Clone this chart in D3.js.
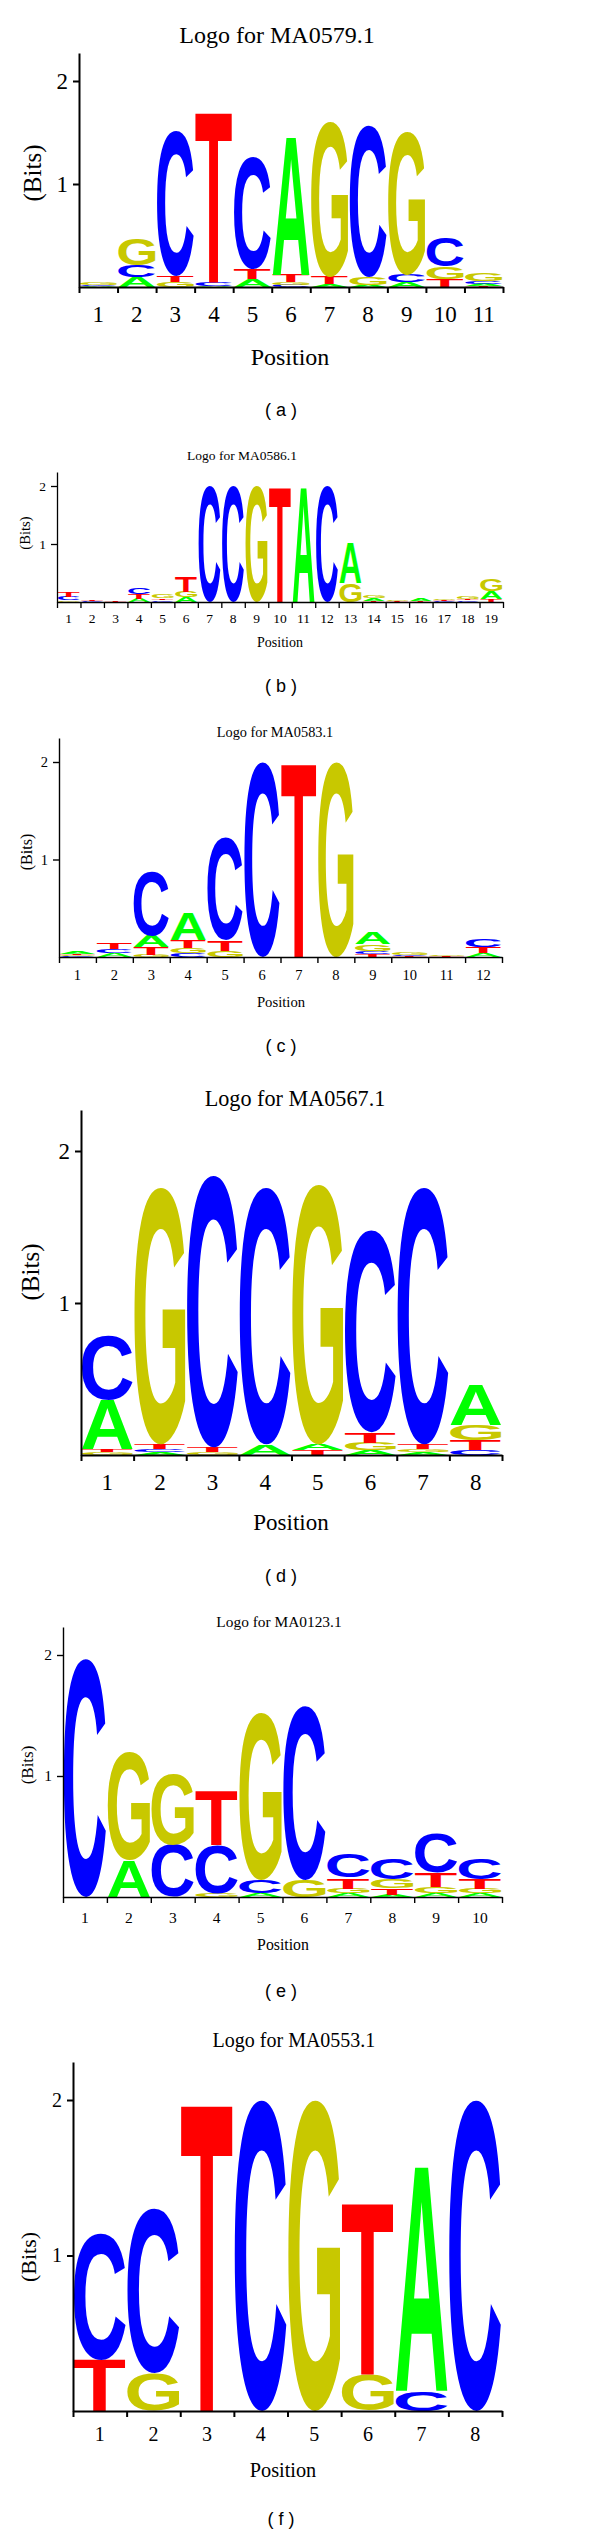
<!DOCTYPE html>
<html><head><meta charset="utf-8">
<script src="https://cdn.jsdelivr.net/npm/d3@7"></script>
<style>body{margin:0;background:#fff} svg{display:block}</style>
</head><body>
<svg id="chart" width="600" height="2536"></svg>
<script>
// ---------------- DATA ----------------
const titles = ["Logo for MA0579.1","Logo for MA0586.1","Logo for MA0583.1","Logo for MA0567.1","Logo for MA0123.1","Logo for MA0553.1"];
const panelLabels = ["( a )","( b )","( c )","( d )","( e )","( f )"];
const yTickValues = [1, 2];
const yAxisLabel = "(Bits)";
const xAxisLabel = "Position";
const letterColors = {A:"#00ff00", C:"#0000ff", G:"#c8c800", T:"#ff0000"};

// each position: stack of [letter, bits] from bottom to top
const logoMA0579 = [
  [["A",0.01],["C",0.01],["G",0.02]],
  [["A",0.10],["C",0.11],["G",0.26]],
  [["G",0.05],["T",0.06],["C",1.41]],
  [["A",0.01],["C",0.04],["T",1.67]],
  [["A",0.08],["T",0.10],["C",1.09]],
  [["C",0.02],["G",0.03],["T",0.07],["A",1.35]],
  [["A",0.03],["T",0.07],["G",1.51]],
  [["A",0.02],["G",0.08],["C",1.47]],
  [["A",0.05],["C",0.07],["G",1.39]],
  [["T",0.08],["G",0.12],["C",0.28]],
  [["T",0.01],["A",0.02],["C",0.03],["G",0.07]]
];
const logoMA0586 = [
  [["G",0.03],["C",0.06],["T",0.09]],
  [["C",0.01],["T",0.02]],
  [["T",0.006]],
  [["A",0.06],["T",0.08],["C",0.12]],
  [["C",0.03],["T",0.03],["G",0.07]],
  [["A",0.08],["G",0.10],["T",0.27]],
  [["C",2.0]],
  [["C",2.0]],
  [["G",2.0]],
  [["T",2.0]],
  [["A",2.0]],
  [["C",2.0]],
  [["G",0.32],["A",0.70]],
  [["T",0.02],["A",0.04],["G",0.04]],
  [["T",0.02],["G",0.03]],
  [["T",0.01],["A",0.04]],
  [["C",0.02],["T",0.02],["G",0.03]],
  [["C",0.03],["T",0.02],["G",0.05]],
  [["T",0.05],["A",0.13],["G",0.20]]
];
const logoMA0583 = [
  [["C",0.01],["G",0.01],["T",0.01],["A",0.02]],
  [["A",0.04],["C",0.04],["T",0.07]],
  [["G",0.02],["T",0.08],["A",0.12],["C",0.66]],
  [["C",0.04],["G",0.05],["T",0.08],["A",0.28]],
  [["G",0.06],["T",0.11],["C",1.06]],
  [["C",2.0]],
  [["T",2.0]],
  [["G",2.0]],
  [["T",0.03],["C",0.03],["G",0.07],["A",0.12]],
  [["T",0.01],["C",0.01],["G",0.02]],
  [["T",0.01],["G",0.01]],
  [["A",0.04],["T",0.06],["C",0.08]]
];
const logoMA0567 = [
  [["G",0.02],["T",0.02],["A",0.32],["C",0.42]],
  [["A",0.02],["C",0.02],["T",0.03],["G",1.69]],
  [["G",0.02],["T",0.03],["C",1.79]],
  [["A",0.07],["C",1.69]],
  [["T",0.03],["A",0.04],["G",1.71]],
  [["A",0.03],["G",0.05],["T",0.07],["C",1.33]],
  [["A",0.02],["G",0.02],["T",0.03],["C",1.69]],
  [["C",0.03],["T",0.07],["G",0.10],["A",0.26]]
];
const logoMA0123 = [
  [["C",1.97]],
  [["A",0.30],["G",0.89]],
  [["C",0.43],["G",0.59]],
  [["G",0.03],["C",0.40],["T",0.45]],
  [["A",0.03],["C",0.11],["G",1.38]],
  [["G",0.14],["C",1.44]],
  [["A",0.03],["G",0.04],["T",0.09],["C",0.20]],
  [["A",0.02],["T",0.05],["G",0.08],["C",0.17]],
  [["A",0.03],["G",0.05],["T",0.12],["C",0.33]],
  [["A",0.03],["G",0.04],["T",0.08],["C",0.17]]
];
const logoMA0553 = [
  [["T",0.33],["C",0.81]],
  [["G",0.24],["C",1.06]],
  [["T",1.99]],
  [["C",2.0]],
  [["G",2.0]],
  [["G",0.23],["T",1.11]],
  [["C",0.13],["A",1.46]],
  [["C",2.0]]
];
const logos = [logoMA0579, logoMA0586, logoMA0583, logoMA0567, logoMA0123, logoMA0553];

// ---------------- LAYOUT ----------------
const layouts = [
  {x0:79, x1:503, base:287, unit:103, top:53,  sw:2,   titleX:277, titleY:43,   titleF:24,   tickF:23,   tickY:322,  posX:290, posY:365,  posF:24,   bitsX:32, bitsY:173,  bitsF:25,   labelY:416},
  {x0:57, x1:503, base:602, unit:58,  top:472, sw:1.3, titleX:242, titleY:460,  titleF:13.5, tickF:13.5, tickY:623,  posX:280, posY:647,  posF:14,   bitsX:25, bitsY:533,  bitsF:14.6, labelY:692},
  {x0:59, x1:502, base:957, unit:97.5,top:738, sw:1.4, titleX:275, titleY:737,  titleF:14.3, tickF:14.5, tickY:980,  posX:281, posY:1007, posF:14.7, bitsX:26, bitsY:852,  bitsF:16,   labelY:1052},
  {x0:81, x1:502, base:1455,unit:152, top:1110,sw:2,   titleX:295, titleY:1106, titleF:22.2, tickF:23,   tickY:1490, posX:291, posY:1530, posF:23,   bitsX:30, bitsY:1272, bitsF:25,   labelY:1582},
  {x0:63, x1:502, base:1897,unit:121, top:1627,sw:1.4, titleX:279, titleY:1627, titleF:15.4, tickF:15.5, tickY:1923, posX:283, posY:1950, posF:15.8, bitsX:27, bitsY:1765, bitsF:17,   labelY:1997},
  {x0:73, x1:502, base:2411,unit:155.5,top:2062,sw:2,  titleX:294, titleY:2047, titleF:20,   tickF:20,   tickY:2441, posX:283, posY:2477, posF:20.3, bitsX:28, bitsY:2257, bitsF:22,   labelY:2525}
];
const labelX = 281;
const serif = '"Liberation Serif","Times New Roman",serif';
const sans = '"Liberation Sans",Arial,sans-serif';

// glyph ink metrics
const FS = 100;
const ctx = document.createElement("canvas").getContext("2d");
ctx.font = `bold ${FS}px "Liberation Sans"`;
const glyph = {};
for (const L of "ACGT") {
  const m = ctx.measureText(L);
  glyph[L] = {l:m.actualBoundingBoxLeft, r:m.actualBoundingBoxRight, a:m.actualBoundingBoxAscent, d:m.actualBoundingBoxDescent};
}

const svg = d3.select("#chart");

logos.forEach((data, i) => {
  const L = layouts[i];
  const g = svg.append("g");
  const positions = data.map((_, k) => String(k + 1));
  const x = d3.scaleBand().domain(positions).range([L.x0, L.x1]).padding(0);
  const yMax = (L.base - L.top) / L.unit;
  const y = d3.scaleLinear().domain([0, yMax]).range([L.base, L.top]);

  // letters
  data.forEach((stack, k) => {
    let cum = 0;
    const bx = x(positions[k]) + 0.8, bw = x.bandwidth() - 1.6;
    stack.forEach(([letter, bits]) => {
      const yBottom = y(cum), yTop0 = y(cum + bits);
      cum += bits;
      const h = Math.max(yBottom - yTop0, 1);
      const yTop = yBottom - h;
      const m = glyph[letter];
      const sx = bw / (m.l + m.r), sy = h / (m.a + m.d);
      g.append("text")
        .attr("transform", `translate(${bx},${yTop}) scale(${sx},${sy}) translate(${m.l},${m.a})`)
        .attr("font-family", sans).attr("font-weight", "bold").attr("font-size", FS)
        .attr("fill", letterColors[letter])
        .text(letter);
    });
  });

  // y axis
  const ya = g.append("g").attr("transform", `translate(${L.x0},0)`)
    .call(d3.axisLeft(y).tickValues(yTickValues).tickFormat(d3.format("d")).tickSize(6).tickPadding(5).tickSizeOuter(0));
  ya.selectAll("path,line").attr("stroke", "#000").attr("stroke-width", L.sw);
  ya.selectAll("text").attr("font-family", serif).attr("font-size", L.tickF).attr("fill", "#000");

  // x axis (boundary ticks)
  const xb = d3.scaleLinear().domain([0, data.length]).range([L.x0, L.x1]);
  const xa = g.append("g").attr("transform", `translate(0,${L.base})`)
    .call(d3.axisBottom(xb).tickValues(d3.range(0, data.length + 1)).tickSize(6).tickSizeOuter(0));
  xa.selectAll("text").remove();
  xa.selectAll("path,line").attr("stroke", "#000").attr("stroke-width", L.sw);

  // x tick labels at column centres
  g.append("g").selectAll("text").data(positions).join("text")
    .attr("x", d => x(d) + x.bandwidth() / 2).attr("y", L.tickY)
    .attr("text-anchor", "middle").attr("font-family", serif).attr("font-size", L.tickF)
    .text(d => d);

  // title
  g.append("text").attr("x", L.titleX).attr("y", L.titleY).attr("text-anchor", "middle")
    .attr("font-family", serif).attr("font-size", L.titleF).text(titles[i]);
  // x label
  g.append("text").attr("x", L.posX).attr("y", L.posY).attr("text-anchor", "middle")
    .attr("font-family", serif).attr("font-size", L.posF).text(xAxisLabel);
  // y label
  g.append("text").attr("transform", `translate(${L.bitsX},${L.bitsY}) rotate(-90)`)
    .attr("text-anchor", "middle").attr("dominant-baseline", "central")
    .attr("font-family", serif).attr("font-size", L.bitsF).text(yAxisLabel);
  // panel label
  svg.append("text").attr("x", labelX).attr("y", L.labelY).attr("text-anchor", "middle")
    .attr("font-family", sans).attr("font-size", 18).text(panelLabels[i]);
});
</script>
</body></html>
